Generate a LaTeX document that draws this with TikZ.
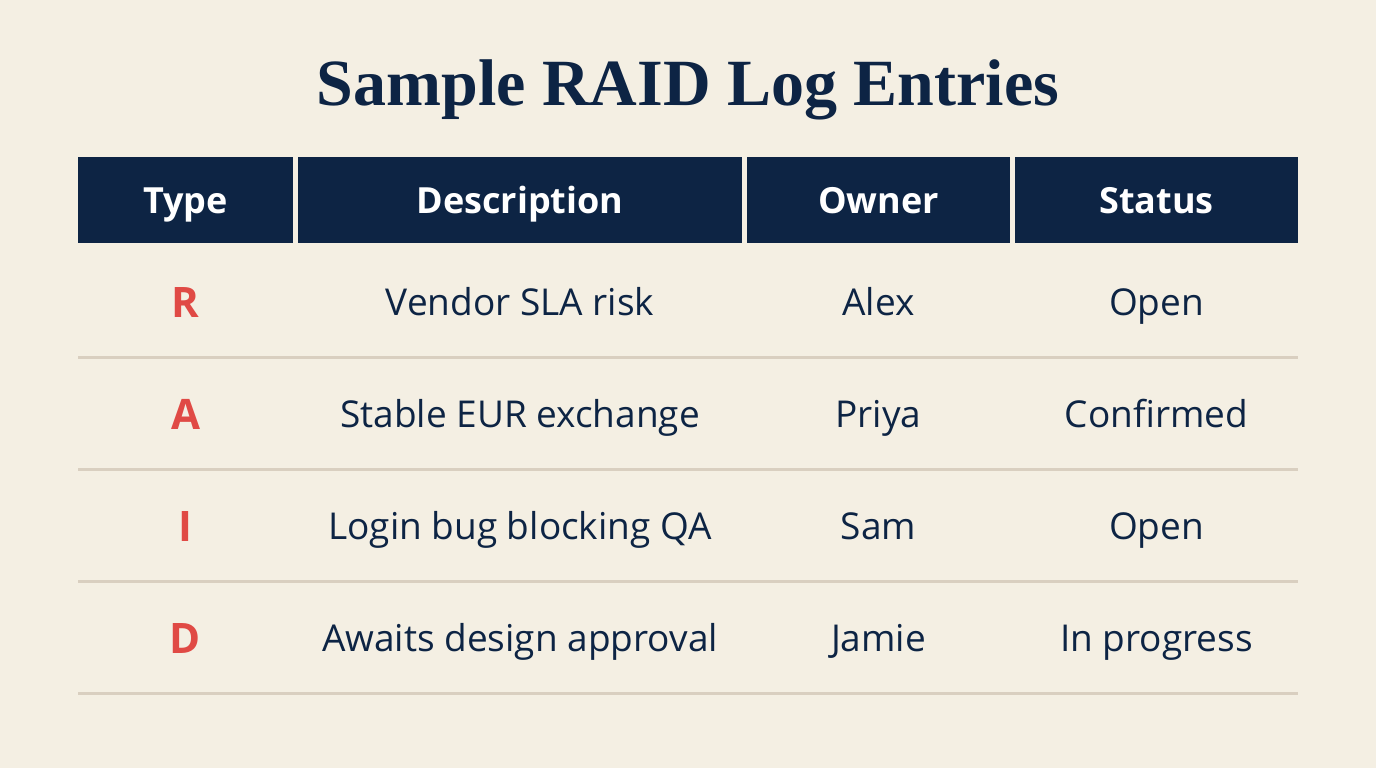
\documentclass[tikz,border=0pt]{standalone}
\usepackage{fontspec}
\setmainfont{Liberation Serif}
\setsansfont{Open Sans}
\definecolor{Paper}{HTML}{F4EFE3}
\definecolor{Navy}{HTML}{0D2444}
\definecolor{Raid}{HTML}{E04A45}
\definecolor{Rule}{HTML}{D9CFC0}
\tikzset{
    head/.style={text=white, anchor=base, font=\sffamily\bfseries\fontsize{36}{36}\selectfont, inner sep=0pt},
    cell/.style={text=Navy, anchor=base, inner sep=0pt, font=\sffamily\fontsize{37}{37}\selectfont},
    letter/.style={text=Raid, anchor=base, inner sep=0pt, font=\sffamily\bfseries\fontsize{42}{42}\selectfont},
    sep/.style={draw=Rule, line width=3pt}
}
\begin{document}
\begin{tikzpicture}[x=1pt, y=-1pt]
        % Background and title
        \fill[Paper] (0,0) rectangle (1376,768);
        \node[text=Navy, anchor=base, inner sep=0pt, font=\bfseries\fontsize{66}{66}\selectfont] (title) at (688,105) {Sample RAID Log Entries};

        % Header cells
        \foreach \name/\xa/\xb/\txt in {type/78/293/Type, desc/298/742/Description, owner/747/1010/Owner, status/1015/1298/Status} {
            \fill[Navy] (\xa,157) rectangle (\xb,243);
            \node[head] (h-\name) at ({(\xa+\xb)/2},213) {\txt};
        }

        % Rows
        \foreach \r/\y/\t/\d/\o/\s in {1/302/R/Vendor SLA risk/Alex/Open,
                                      2/414/A/Stable EUR exchange/Priya/Confirmed,
                                      3/526/I/Login bug blocking QA/Sam/Open,
                                      4/638/D/Awaits design approval/Jamie/In progress} {
            \node[letter] (t\r) at (185.5,\y+15) {\t};
            \node[cell] (d\r) at (520,\y+13) {\d};
            \node[cell] (o\r) at (878.5,\y+13) {\o};
            \node[cell] (s\r) at (1156.5,\y+13) {\s};
            \coordinate (l\r) at (78,\y+55);
            \coordinate (r\r) at (1298,\y+55);
            \draw[sep] (l\r) -- (r\r);
        }
\end{tikzpicture}
\end{document}
